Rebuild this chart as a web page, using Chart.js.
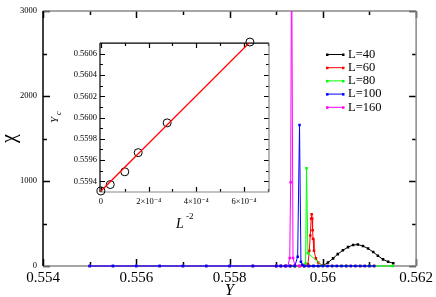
<!DOCTYPE html>
<html>
<head>
<meta charset="utf-8">
<script src="https://cdn.jsdelivr.net/npm/chart.js@4.4.0/dist/chart.umd.min.js"></script>
<style>
  html, body { margin: 0; padding: 0; background: #fff; }
  #wrap { position: relative; width: 436px; height: 297px; }
  #main { position: absolute; left: 0; top: 0; }
  #inset { position: absolute; left: 40px; top: 35px; }
</style>
</head>
<body>
<div id="wrap">
  <canvas id="main" width="436" height="297" style="width:436px;height:297px"></canvas>
  <canvas id="inset" width="240" height="195" style="width:240px;height:195px"></canvas>
</div>
<script>
// main plot: chi vs Y for each L
const xTickVals = [0.554, 0.556, 0.558, 0.560, 0.562];
const xTickLabels = ['0.554', '0.556', '0.558', '0.56', '0.562'];
const yTickVals = [0, 1000, 2000, 3000];
const yTickLabels = ['0', '1000', '2000', '3000'];

const seriesLabels = ['L=40', 'L=60', 'L=80', 'L=100', 'L=160'];
const seriesColors = ['#000000', '#ff0000', '#00ff00', '#0000ff', '#ff00ff'];

const yL40 = [0.5590, 0.5591, 0.5592, 0.5593, 0.5594, 0.5595, 0.5596, 0.5597, 0.5598, 0.5599,
  0.5600, 0.56011, 0.56022, 0.56032, 0.56043, 0.56054, 0.56065, 0.56075, 0.56086, 0.56097,
  0.56108, 0.56118, 0.56129, 0.56140, 0.56151];
const chiL40 = [0, 0, 0, 0, 0, 0, 0, 0, 0, 0,
  3, 40, 90, 140, 185, 222, 248, 252, 235, 205,
  165, 120, 78, 50, 32];

const yL60 = [0.5585, 0.5590, 0.5591, 0.5592, 0.5593, 0.5594, 0.5595, 0.5596,
  0.55968, 0.55971, 0.55973, 0.55975, 0.55976, 0.55977, 0.55978, 0.55979, 0.55981, 0.55985, 0.5599,
  0.5600, 0.5601, 0.5602, 0.5603, 0.5604, 0.5605, 0.5606, 0.5607, 0.5608, 0.5609, 0.5610, 0.5611];
const chiL60 = [0, 0, 0, 0, 0, 0, 0, 0,
  20, 180, 360, 560, 610, 560, 420, 320, 180, 90, 40,
  5, 0, 0, 0, 0, 0, 0, 0, 0, 0, 0, 0];

const yL80 = [0.5550, 0.5555, 0.5560, 0.5565, 0.5570, 0.5575, 0.5580, 0.5585, 0.5590,
  0.5592, 0.5594, 0.5596, 0.55963, 0.55965, 0.55968, 0.5600, 0.5605, 0.5610, 0.5615];
const chiL80 = [0, 0, 0, 0, 0, 0, 0, 0, 0,
  0, 0, 0, 30, 1150, 150, 0, 0, 0, 0];

const yL100 = [0.5550, 0.5555, 0.5560, 0.5565, 0.5570, 0.5575, 0.5580, 0.5585, 0.5590,
  0.5591, 0.5592, 0.5593, 0.5594, 0.55946, 0.55950, 0.55953, 0.55956, 0.5596,
  0.5597, 0.5598, 0.5599, 0.5600, 0.5601, 0.5602, 0.5603, 0.5604, 0.5605, 0.5606,
  0.5607, 0.5608, 0.5609, 0.5610, 0.5611];
const chiL100 = [0, 0, 0, 0, 0, 0, 0, 0, 0,
  0, 0, 0, 0, 110, 1660, 50, 15, 0,
  0, 0, 0, 0, 0, 0, 0, 0, 0, 0,
  0, 0, 0, 0, 0];

const yL160 = [0.5550, 0.5555, 0.5560, 0.5565, 0.5570, 0.5575, 0.5580, 0.5585, 0.5590,
  0.5591, 0.5592, 0.55925, 0.55929, 0.55931, 0.55933, 0.55936, 0.5594, 0.5595, 0.5596, 0.5597];
const chiL160 = [0, 0, 0, 0, 0, 0, 0, 0, 0,
  0, 0, 0, 95, 985, 3800, 95, 10, 0, 0, 0];

// inset: Y_c vs L^-2
const invL2 = [0, 3.906e-5, 1.0e-4, 1.5625e-4, 2.778e-4, 6.25e-4];
const yc = [0.55931, 0.55937, 0.55949, 0.55967, 0.55995, 0.56071];
const fitX = [0, 6.3e-4];
const fitY = [0.55931, 0.56072];
const insetXTickVals = [0, 2e-4, 4e-4, 6e-4];
const insetXTickLabels = ['0', '2×10⁻⁴', '4×10⁻⁴', '6×10⁻⁴'];
const insetYTickVals = [0.5594, 0.5596, 0.5598, 0.5600, 0.5602, 0.5604, 0.5606];
const insetYTickLabels = ['0.5594', '0.5596', '0.5598', '0.5600', '0.5602', '0.5604', '0.5606'];

const SERIF = '"Liberation Serif", "DejaVu Serif", serif';

function pairs(xs, ys) {
  return xs.map((x, i) => ({ x: x, y: ys[i] }));
}

// frame with inward ticks on all four sides
const boxTicks = {
  id: 'boxTicks',
  beforeDatasetsDraw(chart, args, o) {
    const { ctx, chartArea: a } = chart;
    const xs = chart.scales.x, ys = chart.scales.y;
    ctx.save();
    ctx.lineWidth = o.width;
    ctx.strokeStyle = o.tickColor;
    ctx.beginPath();
    o.xMajor.concat(o.xMinor).forEach((v, i) => {
      const len = i < o.xMajor.length ? o.major : o.minor;
      const px = Math.round(xs.getPixelForValue(v)) + 0.5;
      ctx.moveTo(px, a.bottom); ctx.lineTo(px, a.bottom - len);
      ctx.moveTo(px, a.top); ctx.lineTo(px, a.top + len);
    });
    o.yMajor.concat(o.yMinor).forEach((v, i) => {
      const len = i < o.yMajor.length ? o.major : o.minor;
      const py = Math.round(ys.getPixelForValue(v)) + 0.5;
      ctx.moveTo(a.left, py); ctx.lineTo(a.left + len, py);
      ctx.moveTo(a.right, py); ctx.lineTo(a.right - len, py);
    });
    ctx.stroke();
    const side = (c, x1, y1, x2, y2) => {
      ctx.strokeStyle = c;
      ctx.beginPath(); ctx.moveTo(x1, y1); ctx.lineTo(x2, y2); ctx.stroke();
    };
    side(o.topColor, a.left, a.top, a.right, a.top);
    side(o.rightColor, a.right, a.top, a.right, a.bottom);
    side(o.bottomColor, a.left, a.bottom, a.right, a.bottom);
    side(o.leftColor, a.left, a.top, a.left, a.bottom);
    ctx.restore();
  }
};

const legendBox = {
  id: 'legendBox',
  afterDraw(chart, args, o) {
    const ctx = chart.ctx;
    ctx.save();
    ctx.font = o.font;
    ctx.textBaseline = 'middle';
    chart.data.datasets.forEach((ds, i) => {
      const y = o.y + i * o.row + 0.5;
      ctx.strokeStyle = ds.borderColor;
      ctx.fillStyle = ds.borderColor;
      ctx.lineWidth = 1;
      ctx.beginPath(); ctx.moveTo(o.x, y); ctx.lineTo(o.x + o.len, y); ctx.stroke();
      ctx.fillRect(o.x - 1, y - 1, 2.5, 2.5);
      ctx.fillRect(o.x + o.len - 1, y - 1, 2.5, 2.5);
      ctx.fillStyle = '#000';
      ctx.fillText(ds.label, o.x + o.len + 5, y);
    });
    ctx.restore();
  }
};

const mainSets = [
  [yL40, chiL40], [yL60, chiL60], [yL80, chiL80], [yL100, chiL100], [yL160, chiL160]
];
const drawOrder = [5, 4, 3, 1, 2];

new Chart(document.getElementById('main'), {
  type: 'scatter',
  data: {
    datasets: mainSets.map((s, i) => ({
      label: seriesLabels[i],
      data: pairs(s[0], s[1]),
      showLine: true,
      borderColor: seriesColors[i],
      backgroundColor: seriesColors[i],
      borderWidth: 1,
      pointStyle: 'rect',
      pointRadius: 1.8,
      pointBorderWidth: 0,
      order: drawOrder[i],
      clip: { left: 5, right: 5, top: 0, bottom: 5 }
    }))
  },
  options: {
    responsive: false,
    animation: false,
    layout: { padding: { top: 4, right: 17, left: 0, bottom: 0 } },
    plugins: {
      legend: { display: false },
      tooltip: { enabled: false },
      boxTicks: {
        width: 1.5, major: 7, minor: 4,
        tickColor: '#000', topColor: '#888', rightColor: '#888', bottomColor: '#888', leftColor: '#000',
        xMajor: xTickVals, xMinor: [0.555, 0.557, 0.559, 0.561],
        yMajor: yTickVals, yMinor: [500, 1500, 2500]
      },
      legendBox: { x: 327, y: 54, row: 13.2, len: 16, font: '12.5px ' + SERIF }
    },
    scales: {
      x: {
        type: 'linear', min: 0.554, max: 0.562,
        grid: { display: false, drawTicks: false },
        border: { display: false },
        afterBuildTicks: s => { s.ticks = xTickVals.map(v => ({ value: v })); },
        afterFit: s => { s.height = 31; },
        ticks: {
          color: '#000', padding: 3, maxRotation: 0, autoSkip: false,
          font: { family: SERIF, size: 15 },
          callback: (v, i) => xTickLabels[i]
        },
        title: {
          display: true, text: 'Y', color: '#000',
          font: { family: SERIF, size: 16, style: 'italic', lineHeight: 0.8 },
          padding: { top: 0, bottom: 0 }
        }
      },
      y: {
        type: 'linear', min: 0, max: 3000,
        grid: { display: false, drawTicks: false },
        border: { display: false },
        afterBuildTicks: s => { s.ticks = yTickVals.map(v => ({ value: v })); },
        afterFit: s => { s.width = 43; },
        ticks: {
          color: '#000', padding: 6, autoSkip: false,
          font: { family: SERIF, size: 8.5 },
          callback: (v, i) => yTickLabels[i]
        },
        title: {
          display: true, text: 'χ', color: '#000',
          font: { family: SERIF, size: 20, lineHeight: 1 },
          padding: { top: 0, bottom: 0 }
        }
      }
    }
  },
  plugins: [boxTicks, legendBox]
});

// axis titles of the inset with sub/superscripts
const insetTitles = {
  id: 'insetTitles',
  afterDraw(chart) {
    const ctx = chart.ctx;
    ctx.save();
    ctx.fillStyle = '#000';
    ctx.textBaseline = 'alphabetic';
    // L^-2
    ctx.font = 'italic 14px ' + SERIF;
    ctx.fillText('L', 136, 193);
    ctx.font = '9px ' + SERIF;
    ctx.fillText('-2', 146, 184);
    // Y_c, rotated
    ctx.translate(18, 84);
    ctx.rotate(-Math.PI / 2);
    ctx.font = 'italic 11px ' + SERIF;
    ctx.fillText('Y', -4, 0);
    ctx.font = 'italic 8px ' + SERIF;
    ctx.fillText('c', 4, 3);
    ctx.restore();
  }
};

new Chart(document.getElementById('inset'), {
  type: 'scatter',
  data: {
    datasets: [
      {
        data: pairs(fitX, fitY),
        showLine: true,
        pointRadius: 0,
        borderColor: '#ff0000',
        backgroundColor: '#ff0000',
        borderWidth: 1.3,
        order: 0
      },
      {
        data: pairs(invL2, yc),
        pointStyle: 'circle',
        pointRadius: 4,
        borderColor: 'rgba(0,0,0,0)',
        borderWidth: 0,
        pointBorderColor: '#000',
        pointBackgroundColor: 'rgba(0,0,0,0)',
        pointBorderWidth: 1,
        order: 1,
        clip: false
      }
    ]
  },
  options: {
    responsive: false,
    animation: false,
    layout: { padding: { top: 6, right: 11, left: 0, bottom: 0 } },
    plugins: {
      legend: { display: false },
      tooltip: { enabled: false },
      boxTicks: {
        width: 1.2, major: 5, minor: 3,
        tickColor: '#000', topColor: '#000', rightColor: '#888', bottomColor: '#888', leftColor: '#000',
        xMajor: insetXTickVals, xMinor: [1e-4, 3e-4, 5e-4, 7e-4],
        yMajor: insetYTickVals, yMinor: [0.5595, 0.5597, 0.5599, 0.5601, 0.5603, 0.5605]
      }
    },
    scales: {
      x: {
        type: 'linear', min: -0.04e-4, max: 7.05e-4,
        grid: { display: false, drawTicks: false },
        border: { display: false },
        afterBuildTicks: s => { s.ticks = insetXTickVals.map(v => ({ value: v })); },
        afterFit: s => { s.height = 38; },
        ticks: {
          color: '#000', padding: 5, maxRotation: 0, autoSkip: false,
          font: { family: SERIF, size: 8.5 },
          callback: (v, i) => insetXTickLabels[i]
        }
      },
      y: {
        type: 'linear', min: 0.5593, max: 0.5607,
        grid: { display: false, drawTicks: false },
        border: { display: false },
        afterBuildTicks: s => { s.ticks = insetYTickVals.map(v => ({ value: v })); },
        afterFit: s => { s.width = 60; },
        ticks: {
          color: '#000', padding: 3, autoSkip: false,
          font: { family: SERIF, size: 8.5 },
          callback: (v, i) => insetYTickLabels[i]
        }
      }
    }
  },
  plugins: [boxTicks, insetTitles]
});
</script>
</body>
</html>
